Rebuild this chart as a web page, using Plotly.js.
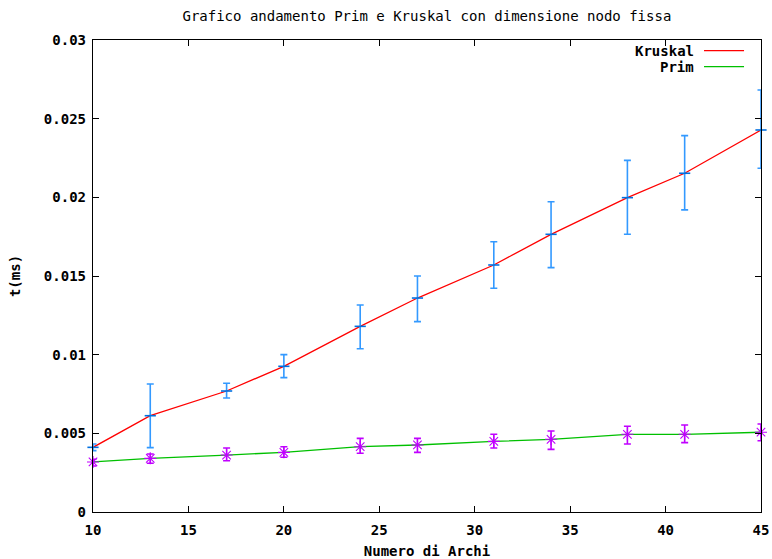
<!DOCTYPE html>
<html>
<head>
<meta charset="utf-8">
<script src="https://cdn.plot.ly/plotly-3.0.1.min.js"></script>
<style>html,body{margin:0;padding:0;background:#fff;}#chart{width:772px;height:559px;}</style>
</head>
<body>
<div id="chart"></div>
<script>
const numeroArchi = [10, 13, 17, 20, 24, 27, 31, 34, 38, 41, 45];
const kruskal   = [0.00411, 0.00612, 0.00769, 0.00926, 0.0118, 0.0136, 0.0157, 0.01765, 0.01998, 0.02153, 0.02428];
const kruskalHi = [0.00432, 0.00814, 0.00818, 0.0100, 0.01316, 0.0150, 0.01718, 0.01972, 0.02235, 0.02392, 0.02682];
const kruskalLo = [0.0039, 0.00409, 0.00725, 0.00854, 0.01038, 0.0121, 0.01422, 0.01553, 0.01765, 0.0192, 0.02185];
const prim   = [0.00318, 0.00341, 0.00362, 0.00379, 0.00415, 0.00426, 0.00449, 0.00462, 0.00494, 0.00494, 0.00507];
const primHi = [0.00335, 0.00369, 0.00407, 0.00415, 0.00468, 0.00468, 0.00494, 0.00515, 0.00545, 0.00553, 0.00559];
const primLo = [0.00292, 0.0031, 0.00326, 0.00348, 0.00373, 0.00379, 0.00407, 0.00398, 0.00432, 0.00441, 0.00453];
const seriesNames = ["Kruskal", "Prim"];

const FONT = "DejaVu Sans Mono, Liberation Mono, monospace";
const up = (v, h) => h.map((x, i) => x - v[i]);
const down = (v, l) => l.map((x, i) => v[i] - x);

const traces = [
  {x: numeroArchi, y: kruskal, mode: "lines", line: {color: "#ff0000", width: 1.3}, name: seriesNames[0], showlegend: false, cliponaxis: false},
  {x: numeroArchi, y: prim, mode: "lines", line: {color: "#00c000", width: 1.3}, name: seriesNames[1], showlegend: false, cliponaxis: false},
  {x: numeroArchi, y: kruskal, mode: "markers", showlegend: false, cliponaxis: false,
   marker: {symbol: "line-ew-open", size: 8, color: "#0070e0", line: {color: "#0070e0", width: 1.6}},
   error_y: {type: "data", symmetric: false, array: up(kruskal, kruskalHi), arrayminus: down(kruskal, kruskalLo), color: "#3399ff", thickness: 1.6, width: 3.5}},
  {x: numeroArchi, y: prim, mode: "markers", showlegend: false, cliponaxis: false,
   marker: {symbol: "asterisk-open", size: 10, color: "#c000ff", line: {color: "#c000ff", width: 1.1}},
   error_y: {type: "data", symmetric: false, array: up(prim, primHi), arrayminus: down(prim, primLo), color: "#c000ff", thickness: 1.6, width: 3.5}}
];

const legendY = [0.9773, 0.9434];
const legendColors = ["#ff0000", "#00c000"];
const annotations = seriesNames.map((n, i) => ({
  xref: "paper", yref: "paper", x: 0.902, y: legendY[i], xanchor: "right", yanchor: "middle",
  text: n, showarrow: false, font: {family: FONT, size: 14, color: "#000", weight: "bold"}
}));
const shapes = seriesNames.map((n, i) => ({
  type: "line", xref: "paper", yref: "paper", x0: 0.9147, x1: 0.9746, y0: legendY[i], y1: legendY[i],
  line: {color: legendColors[i], width: 1.3}
}));

const layout = {
  width: 772, height: 559,
  margin: {l: 93, r: 11, t: 40, b: 47},
  paper_bgcolor: "#ffffff", plot_bgcolor: "#ffffff",
  showlegend: false,
  title: {text: "Grafico andamento Prim e Kruskal con dimensione nodo fissa", x: 0.553, xanchor: "center", y: 0.972, yanchor: "middle",
          font: {family: FONT, size: 14, color: "#000"}},
  xaxis: {range: [10, 45], dtick: 5, tick0: 10, showgrid: false, zeroline: false,
          showline: true, linecolor: "#000", linewidth: 1.2, mirror: "ticks",
          ticks: "inside", ticklen: 6, tickcolor: "#000", tickwidth: 1, ticklabelstandoff: 5,
          tickfont: {family: FONT, size: 14, color: "#000", weight: "bold"},
          title: {text: "Numero di Archi", standoff: 11, font: {family: FONT, size: 14, color: "#000", weight: "bold"}}},
  yaxis: {range: [0, 0.03], dtick: 0.005, tick0: 0, showgrid: false, zeroline: false,
          showline: true, linecolor: "#000", linewidth: 1.2, mirror: "ticks",
          ticks: "inside", ticklen: 6, tickcolor: "#000", tickwidth: 1, ticklabelstandoff: 3,
          tickfont: {family: FONT, size: 14, color: "#000", weight: "bold"},
          title: {text: "t(ms)", standoff: 20, font: {family: FONT, size: 14, color: "#000", weight: "bold"}}},
  annotations: annotations,
  shapes: shapes
};

Plotly.newPlot("chart", traces, layout, {displayModeBar: false, staticPlot: true});
</script>
</body>
</html>
